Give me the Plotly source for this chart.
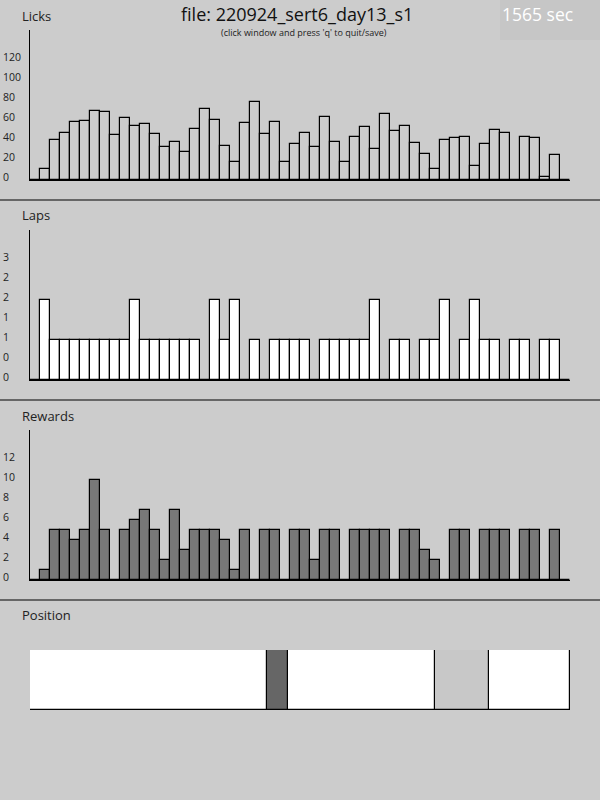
import plotly.graph_objects as go

# ---------------- data ----------------
licks = [0, 11, 40, 47, 58, 59, 69, 68, 45, 62, 54, 56, 46, 33, 38, 28, 51, 71, 60, 34,
         18, 57, 78, 46, 58, 18, 36, 47, 33, 63, 38, 18, 43, 53, 31, 66, 49, 54, 37, 26,
         11, 40, 42, 43, 14, 36, 50, 47, 0, 43, 42, 3, 25, 0]
laps = [0, 2, 1, 1, 1, 1, 1, 1, 1, 1, 2, 1, 1, 1, 1, 1, 1, 0, 2, 1,
        2, 0, 1, 0, 1, 1, 1, 1, 0, 1, 1, 1, 1, 1, 2, 0, 1, 1, 0, 1,
        1, 2, 0, 1, 2, 1, 1, 0, 1, 1, 0, 1, 1, 0]
rewards = [0, 1, 5, 5, 4, 5, 10, 5, 0, 5, 6, 7, 5, 2, 7, 3, 5, 5, 5, 4,
           1, 5, 0, 5, 5, 0, 5, 5, 2, 5, 5, 0, 5, 5, 5, 5, 0, 5, 5, 3,
           2, 0, 5, 5, 0, 5, 5, 5, 0, 5, 5, 0, 5, 0]
bins = list(range(len(licks)))

licks_ticks = [0, 20, 40, 60, 80, 100, 120]
laps_ticks = [0, 0.5, 1, 1.5, 2, 2.5, 3]
laps_ticktext = ["0", "0", "1", "1", "2", "2", "3"]
rewards_ticks = [0, 2, 4, 6, 8, 10, 12]

track_length = 180
reward_zone = [135, 153]
animal_pos = [79, 86]

file_name = "file: 220924_sert6_day13_s1"
subtitle = "(click window and press 'q' to quit/save)"
elapsed = "1565 sec"

# ---------------- styling ----------------
BG = "#cccccc"
FONT = "Open Sans"
W, H = 600, 800


def yfrac(px):
    return 1 - px / H


fig = go.Figure()
xc = [b + 0.5 for b in bins]
fig.add_trace(go.Bar(x=xc, y=licks, width=1, marker=dict(color=BG, line=dict(color="black", width=1.2)),
                     xaxis="x", yaxis="y", showlegend=False))
fig.add_trace(go.Bar(x=xc, y=laps, width=1, marker=dict(color="white", line=dict(color="black", width=1.2)),
                     xaxis="x2", yaxis="y2", showlegend=False))
fig.add_trace(go.Bar(x=xc, y=rewards, width=1, marker=dict(color="#787878", line=dict(color="black", width=1.2)),
                     xaxis="x3", yaxis="y3", showlegend=False))
# position panel
fig.add_trace(go.Bar(y=[0.5], x=[track_length], base=[0], width=1, orientation="h", cliponaxis=False,
                     marker=dict(color="white", line=dict(color="black", width=1.2)),
                     xaxis="x4", yaxis="y4", showlegend=False))
fig.add_trace(go.Bar(y=[0.5], x=[reward_zone[1] - reward_zone[0]], base=[reward_zone[0]], width=1,
                     orientation="h", cliponaxis=False,
                     marker=dict(color="#c8c8c8", line=dict(color="black", width=1.2)),
                     xaxis="x4", yaxis="y4", showlegend=False))
fig.add_trace(go.Bar(y=[0.5], x=[animal_pos[1] - animal_pos[0]], base=[animal_pos[0]], width=1,
                     orientation="h", cliponaxis=False,
                     marker=dict(color="#666666", line=dict(color="black", width=1.2)),
                     xaxis="x4", yaxis="y4", showlegend=False))

xdom = [30 / W, 570 / W]
nb = len(bins)


def xax(anchor):
    return dict(domain=xdom, range=[0, nb], anchor=anchor, showline=True, linecolor="black", linewidth=1.2,
                showgrid=False, zeroline=False, showticklabels=False, ticks="", fixedrange=True,
                automargin=False)


def yax(anchor, top_px, bottom_px, rng, tickvals, ticktext=None):
    d = dict(domain=[yfrac(bottom_px), yfrac(top_px)], range=rng, anchor=anchor, showline=True,
             linecolor="black", linewidth=1.2, showgrid=False, zeroline=False, ticks="",
             tickvals=tickvals, ticklabelposition="inside", ticklabelstandoff=-28,
             ticklabelshift=-3, ticklabeloverflow="allow", automargin=False,
             tickfont=dict(family=FONT, size=10.5, color="#222222"), fixedrange=True)
    if ticktext is not None:
        d["ticktext"] = ticktext
    return d


layout = dict(
    width=W, height=H, margin=dict(l=0, r=0, t=0, b=0, pad=0), autosize=False,
    paper_bgcolor=BG, plot_bgcolor="rgba(0,0,0,0)", barmode="overlay", bargap=0,
    font=dict(family=FONT, color="#222222"),
    xaxis=xax("y"),
    yaxis=yax("x", 30, 180, [0, 150], licks_ticks),
    xaxis2=xax("y2"),
    yaxis2=yax("x2", 230, 380, [0, 3.75], laps_ticks, laps_ticktext),
    xaxis3=xax("y3"),
    yaxis3=yax("x3", 430, 580, [0, 15], rewards_ticks),
    xaxis4=dict(domain=xdom, range=[0, track_length], anchor="y4", showline=False, showgrid=False,
                zeroline=False, showticklabels=False, ticks="", fixedrange=True, automargin=False),
    yaxis4=dict(domain=[yfrac(710), yfrac(650)], range=[0, 1], anchor="x4", showline=False, showgrid=False,
                zeroline=False, showticklabels=False, ticks="", fixedrange=True, automargin=False),
)
fig.update_layout(**layout)

shapes = []
for py in (200, 400, 600):
    shapes.append(dict(type="line", xref="paper", yref="paper", x0=0, x1=1, y0=yfrac(py), y1=yfrac(py),
                       line=dict(color="black", width=1.2)))
shapes.append(dict(type="rect", xref="paper", yref="paper", x0=500 / W, x1=1, y0=yfrac(40), y1=1,
                   fillcolor="#c6c6c6", line=dict(width=0), layer="below"))
fig.update_layout(shapes=shapes)

ann = []
for label, py in (("Licks", 15.5), ("Laps", 215.5), ("Rewards", 415.5), ("Position", 615)):
    ann.append(dict(text=label, x=20 / W, y=yfrac(py), xref="paper", yref="paper", xanchor="left",
                    yanchor="middle", showarrow=False, font=dict(family=FONT, size=13, color="#222222")))
ann.append(dict(text=file_name, x=297 / W, y=yfrac(14), xref="paper", yref="paper", xanchor="center",
                yanchor="middle", showarrow=False, font=dict(family=FONT, size=18, color="#111111")))
ann.append(dict(text=subtitle, x=303.5 / W, y=yfrac(32), xref="paper", yref="paper", xanchor="center",
                yanchor="middle", showarrow=False, font=dict(family=FONT, size=9, color="#222222")))
ann.append(dict(text=elapsed, x=500 / W, y=yfrac(14), xref="paper", yref="paper", xanchor="left",
                yanchor="middle", showarrow=False, font=dict(family=FONT, size=17.5, color="white")))
fig.update_layout(annotations=ann)

fig.write_html("out.html", config={"displayModeBar": False})
